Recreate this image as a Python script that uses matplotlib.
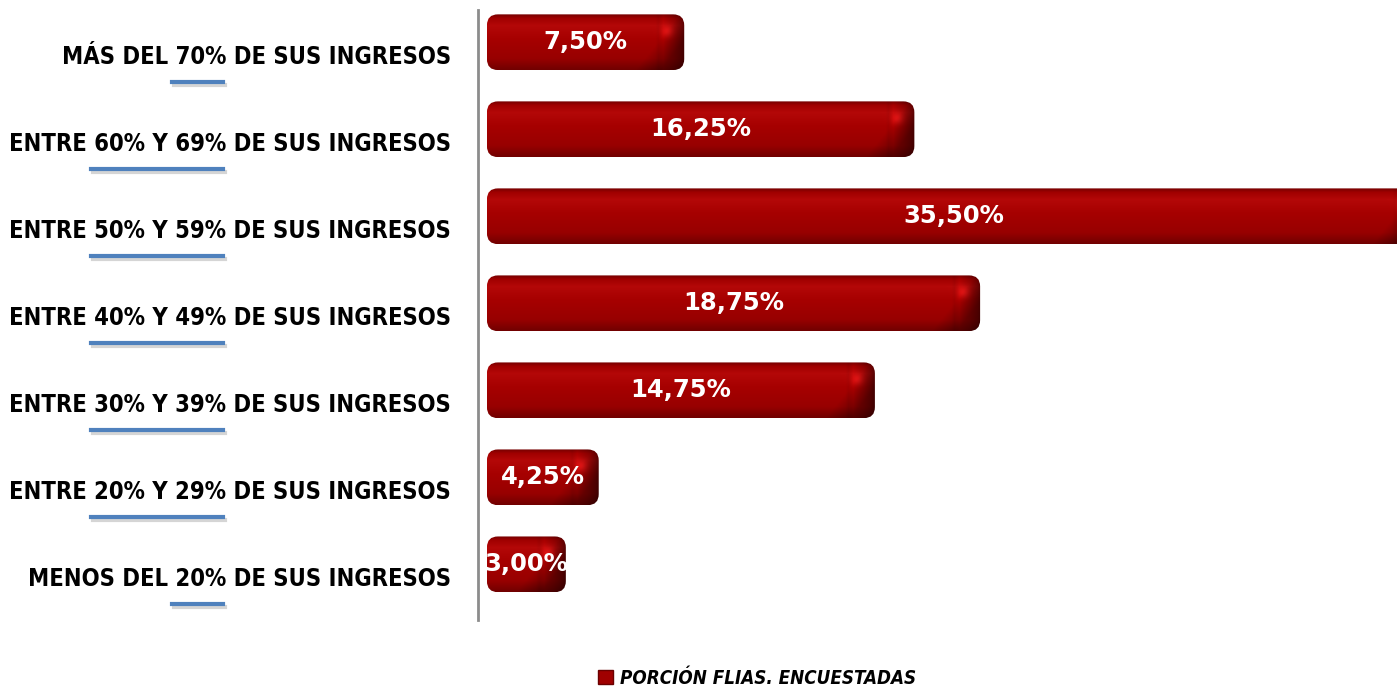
import numpy as np
import matplotlib
matplotlib.use("Agg")
import matplotlib.pyplot as plt
from matplotlib.patches import FancyBboxPatch, Patch
from matplotlib.lines import Line2D
from matplotlib import transforms

# categories from top to bottom
prefixes = ["MÁS DEL ", "ENTRE ", "ENTRE ", "ENTRE ", "ENTRE ", "ENTRE ", "MENOS DEL "]
ranges = ["70%", "60% Y 69%", "50% Y 59%", "40% Y 49%", "30% Y 39%", "20% Y 29%", "20%"]
suffix = " DE SUS INGRESOS"
values = [7.50, 16.25, 35.50, 18.75, 14.75, 4.25, 3.00]
value_labels = ["7,50%", "16,25%", "35,50%", "18,75%", "14,75%", "4,25%", "3,00%"]
legend_label = "PORCIÓN FLIAS. ENCUESTADAS"

W, H = 1397, 689
fig = plt.figure(figsize=(W / 100, H / 100), dpi=100)
ax = fig.add_axes([478 / W, 1 - 620 / H, 1 - 478 / W, (620 - 10) / H])

XLIM = (-0.34, 34.6)
YLIM = (6.64, -0.37)

ypos = np.arange(len(values))
bars = ax.barh(ypos, values, height=0.64, color="none", edgecolor="none")
ax.set_xlim(*XLIM)
ax.set_ylim(*YLIM)

for s in ["top", "right", "bottom"]:
    ax.spines[s].set_visible(False)
ax.spines["left"].set_color("#8c8c8c")
ax.spines["left"].set_linewidth(2)
ax.set_xticks([])
ax.set_yticks([])

# pixel scale of the data units
bb = ax.get_window_extent()
px_x = bb.width / (XLIM[1] - XLIM[0])
px_y = bb.height / abs(YLIM[0] - YLIM[1])

# vertical shading of the cylinder-like bars
stops = [0.0, 0.07, 0.2, 0.45, 0.8, 1.0]
cols = np.array([[0x78, 0x00, 0x00], [0xa0, 0x00, 0x00], [0xb4, 0x08, 0x08],
                 [0xa6, 0x00, 0x00], [0x98, 0x00, 0x00], [0x72, 0x00, 0x00]]) / 255.0

for rect in bars:
    x0, y0 = rect.get_x(), rect.get_y()
    w, h = rect.get_width(), rect.get_height()
    r = 11 / px_x
    patch = FancyBboxPatch((x0, y0), w, h,
                           boxstyle=f"round,pad=0,rounding_size={r}",
                           mutation_aspect=px_x / px_y,
                           facecolor="none", edgecolor="none")
    ax.add_patch(patch)
    ny, nx = 56, max(int(w * px_x), 2)
    t = np.linspace(0, 1, ny)
    prof = np.stack([np.interp(t, stops, cols[:, k]) for k in range(3)], axis=1)
    img = np.repeat(prof[:, None, :], nx, axis=1)
    # darker rounded cap on the right with a soft highlight
    dist = nx - np.arange(nx)
    shade = np.interp(dist, [0, 4, 12, 22, 27, 30], [0.55, 0.7, 0.88, 1.05, 0.95, 1.0])
    img = img * shade[None, :, None]
    yy, xx = np.mgrid[0:ny, 0:nx]
    spot = np.exp(-(((xx - (nx - 18)) / 6.0) ** 2 + ((yy - ny * 0.3) / 6.0) ** 2))
    img = img + spot[..., None] * np.array([0.18, 0.06, 0.06])
    # darker bottom-right bevel
    bevel = np.clip((xx - (nx - 30) + (yy - ny * 0.55) * 0.8) / 25.0, 0, 1)
    img = img * (1 - 0.3 * bevel[..., None])
    img = np.clip(img, 0, 1)
    im = ax.imshow(img, extent=[x0, x0 + w, y0 + h, y0], aspect="auto",
                   interpolation="bilinear", zorder=2)
    im.set_clip_path(patch)

ax.set_xlim(*XLIM)
ax.set_ylim(*YLIM)

# value labels
for rect, lab in zip(bars, value_labels):
    ax.text(rect.get_x() + rect.get_width() / 2, rect.get_y() + rect.get_height() / 2,
            lab, ha="center", va="center", color="white", fontsize=17.5,
            fontweight="bold", family="DejaVu Sans", zorder=3)

# category labels with underline under the range part
lab_font = dict(fontsize=17, fontweight="bold", family="DejaVu Sans", fontstretch="condensed")
trans = transforms.offset_copy(ax.transData, fig, x=0, y=-15, units="dots")
trans = transforms.blended_transform_factory(
    transforms.offset_copy(ax.transAxes, fig, x=-27, units="dots"), trans)
renderer = fig.canvas.get_renderer()


def text_width(s):
    t = fig.text(0, 0, "." + s, **lab_font)
    t0 = fig.text(0, 0, ".", **lab_font)
    wdt = t.get_window_extent(renderer).width - t0.get_window_extent(renderer).width
    t.remove()
    t0.remove()
    return wdt


inv = fig.transFigure.inverted()
for i, (p, rg) in enumerate(zip(prefixes, ranges)):
    txt = ax.text(0, i, p + rg + suffix, ha="right", va="center", color="black",
                  transform=trans, **lab_font)
    ext = txt.get_window_extent(renderer)
    right = ext.x1 - text_width(suffix)
    left = right - text_width(rg)
    yline = ext.y0 + ext.height / 2 - 25
    (fx0, fy0), (fx1, fy1) = inv.transform([(left - 3, yline), (right - 3, yline)])
    (sx0, sy0), (sx1, sy1) = inv.transform([(left - 1, yline - 3), (right - 1, yline - 3)])
    fig.add_artist(Line2D([sx0, sx1], [sy0, sy1], color="#c4c4c4", lw=3, alpha=0.7))
    fig.add_artist(Line2D([fx0, fx1], [fy0, fy1], color="#4f81bd", lw=3))

handle = Patch(facecolor="#a00000", edgecolor="#6a0000")
fig.legend([handle], [legend_label], loc="center", bbox_to_anchor=(757 / W, 1 - 678 / H),
           frameon=False, handlelength=0.8, handleheight=0.8, handletextpad=0.4,
           prop=dict(size=13.5, weight="bold", style="italic", family="DejaVu Sans",
                     stretch="condensed"))

fig.savefig("out.png", dpi=100, facecolor="white")
